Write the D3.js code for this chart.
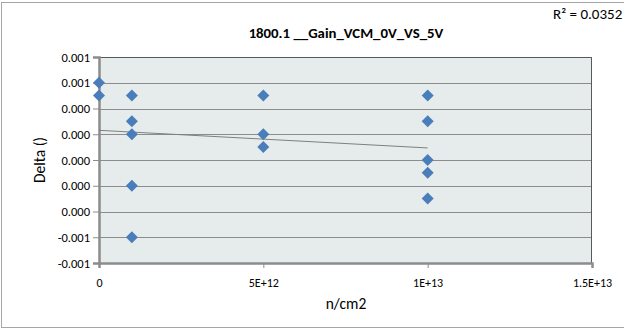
<!DOCTYPE html>
<html><head><meta charset="utf-8">
<script src="https://cdn.jsdelivr.net/npm/d3@7"></script>
<style>body{margin:0;background:#fff}svg{display:block}text{font-family:Carlito,Lato,"Liberation Sans",sans-serif}</style>
</head><body><svg id="c" width="624" height="330"></svg>
<script>
const title = "1800.1 __Gain_VCM_0V_VS_5V";
const xLabel = "n/cm2";
const yLabel = "Delta ()";
const r2Label = "R² = 0.0352";
const xValues = [0, 0, 1e12, 1e12, 1e12, 1e12, 1e12, 5e12, 5e12, 5e12, 1e13, 1e13, 1e13, 1e13, 1e13];
const yValues = [0.0006, 0.0005, 0.0005, 0.0003, 0.0002, -0.0002, -0.0006, 0.0005, 0.0002, 0.0001, 0.0005, 0.0003, 0.0, -0.0001, -0.0003];
const xTicks = [0, 5e12, 1e13, 1.5e13];
const xTickLabels = ["0", "5E+12", "1E+13", "1.5E+13"];
const yTicks = [0.0008, 0.0006, 0.0004, 0.0002, 0, -0.0002, -0.0004, -0.0006, -0.0008];
const yTickLabels = ["0.001", "0.001", "0.000", "0.000", "0.000", "0.000", "0.000", "-0.001", "-0.001"];

const svg = d3.select("#c");
const L = 99, R = 592, T = 57, B = 263;
const x = d3.scaleLinear().domain([0, 1.5e13]).range([L, R]);
const y = d3.scaleLinear().domain([-0.0008, 0.0008]).range([B, T]);

// outer border
svg.append("rect").attr("x", 1.5).attr("y", 2.5).attr("width", 640).attr("height", 325)
  .attr("fill", "#fff").attr("stroke", "#a6a6a6").attr("stroke-width", 1);

// plot area
svg.append("rect").attr("x", L).attr("y", T).attr("width", R - L).attr("height", B - T)
  .attr("fill", "#e6ebeb");

// gridlines
svg.append("g").selectAll("line").data(yTicks).join("line")
  .attr("x1", L).attr("x2", R).attr("y1", d => Math.round(y(d)) + 0.5).attr("y2", d => Math.round(y(d)) + 0.5)
  .attr("stroke", "#8c8c8c").attr("stroke-width", 1.2);

// plot border top/right
svg.append("path").attr("d", `M${L},${T + 0.5}H${R - 0.5}V${B}`).attr("fill", "none").attr("stroke", "#595959").attr("stroke-width", 1);

// y axis
const yAxis = d3.axisLeft(y).tickValues(yTicks).tickSize(6).tickFormat((d, i) => yTickLabels[i]);
const gy = svg.append("g").attr("transform", `translate(${L},0)`).call(yAxis);
gy.select(".domain").attr("stroke", "#8c8c8c").attr("stroke-width", 2.5);
gy.selectAll(".tick line").attr("stroke", "#8c8c8c");
gy.selectAll(".tick text").attr("font-size", 12.5).attr("fill", "#000").attr("x", -9);

// x axis
const xAxis = d3.axisBottom(x).tickValues(xTicks).tickSize(5).tickFormat((d, i) => xTickLabels[i]);
const gx = svg.append("g").attr("transform", `translate(0,${B})`).call(xAxis);
gx.select(".domain").attr("stroke", "#8c8c8c").attr("stroke-width", 2.5);
gx.selectAll(".tick line").attr("stroke", "#8c8c8c");
gx.selectAll(".tick text").attr("font-size", 12).attr("fill", "#000").attr("y", 15);

// trendline (least squares)
const n = xValues.length;
const mx = d3.mean(xValues), my = d3.mean(yValues);
let sxy = 0, sxx = 0;
for (let i = 0; i < n; i++) { sxy += (xValues[i] - mx) * (yValues[i] - my); sxx += (xValues[i] - mx) ** 2; }
const slope = sxy / sxx, icpt = my - slope * mx;
const x0 = d3.min(xValues), x1 = d3.max(xValues);
svg.append("line").attr("x1", x(x0)).attr("y1", y(icpt + slope * x0)).attr("x2", x(x1)).attr("y2", y(icpt + slope * x1))
  .attr("stroke", "#7f7f7f").attr("stroke-width", 1);

// markers (diamonds)
const sym = d3.symbol().type(d3.symbolSquare).size(72);
svg.append("g").selectAll("path").data(xValues).join("path")
  .attr("d", sym).attr("transform", (d, i) => `translate(${x(d)},${y(yValues[i])}) rotate(45)`)
  .attr("fill", "#4a7ebb");

// texts
svg.append("text").attr("x", 346).attr("y", 38).attr("text-anchor", "middle").attr("font-size", 14.8).attr("font-weight", "bold").text(title);
svg.append("text").attr("x", 553).attr("y", 19).attr("font-size", 15).text(r2Label);
svg.append("text").attr("x", 346).attr("y", 309).attr("text-anchor", "middle").attr("font-size", 15.5).text(xLabel);
svg.append("text").attr("transform", "translate(45,160) rotate(-90)").attr("text-anchor", "middle").attr("font-size", 15.5).text(yLabel);
</script></body></html>
